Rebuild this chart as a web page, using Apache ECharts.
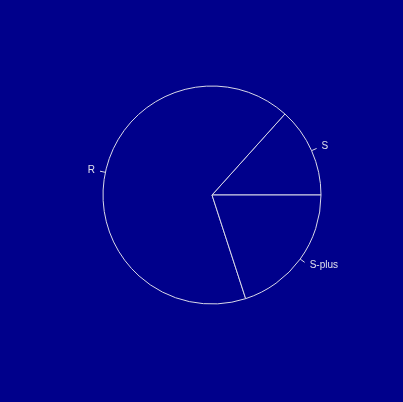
<!DOCTYPE html>
<html>
<head>
<meta charset="utf-8">
<script src="https://cdn.jsdelivr.net/npm/echarts@6/dist/echarts.min.js"></script>
<style>
html,body{margin:0;padding:0;background:#00008B;}
#chart{width:403px;height:402px;}
</style>
</head>
<body>
<div id="chart"></div>
<script>
const categories = ['S', 'R', 'S-plus'];
const values = [2, 10, 3];

const R = 109;
const total = values.reduce((a, b) => a + b, 0);
let acc = 0;
const data = categories.map((c, i) => {
  const mid = (acc + values[i] / 2) / total * 2 * Math.PI;
  acc += values[i];
  // R places text at 1.1 radius, ECharts at end of 1.05-radius tick
  const dy = -0.05 * R * Math.sin(mid);
  return {name: c, value: values[i], label: {offset: [0, dy]}};
});

const chart = echarts.init(document.getElementById('chart'), null, {renderer: 'canvas'});
chart.setOption({
  backgroundColor: '#00008B',
  animation: false,
  series: [{
    type: 'pie',
    center: [212, 195],
    radius: R,
    startAngle: 0,
    clockwise: false,
    avoidLabelOverlap: false,
    silent: true,
    data: data,
    itemStyle: {
      color: '#00008B',
      borderColor: '#d8d8e8',
      borderWidth: 1
    },
    label: {
      show: true,
      color: '#e0e0ec',
      fontFamily: 'Liberation Sans, Arial, sans-serif',
      fontSize: 10,
      distanceToLabelLine: 5
    },
    labelLine: {
      show: true,
      length: 5.5,
      length2: 0,
      lineStyle: {color: '#d8d8e8', width: 1}
    }
  }]
});
</script>
</body>
</html>
